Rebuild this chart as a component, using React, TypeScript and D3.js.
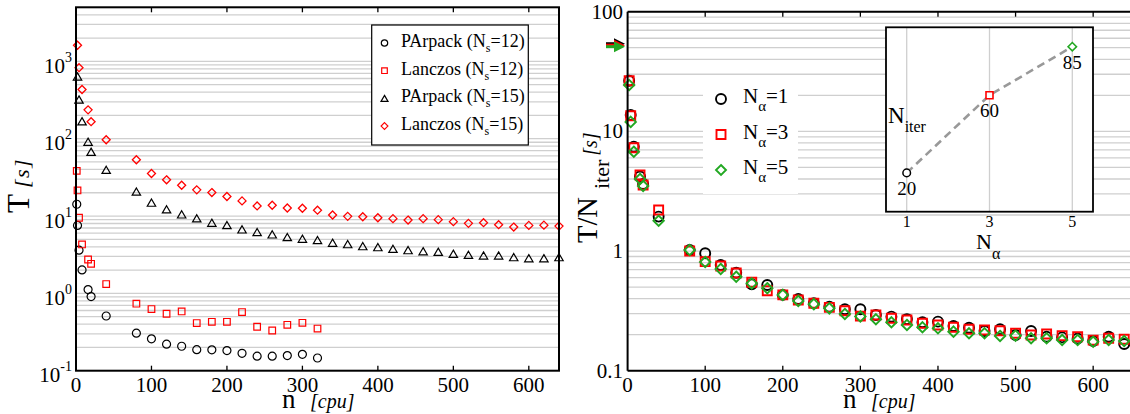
import React from "react";
import * as d3 from "d3";

// ---------- data ----------
const nSmall12 = [1, 2, 4, 8, 16, 20, 40, 80, 100, 120, 140, 160, 180, 200, 220, 240, 260, 280, 300, 320];
const parpack12 = [14.2, 7.57, 3.62, 2.01, 1.12, 0.91, 0.51, 0.306, 0.258, 0.22, 0.207, 0.187, 0.186, 0.182, 0.168, 0.154, 0.154, 0.157, 0.163, 0.146];
const lanczos12 = [38.4, 21.4, 9.5, 4.29, 2.74, 2.41, 1.32, 0.735, 0.627, 0.545, 0.584, 0.413, 0.429, 0.429, 0.573, 0.37, 0.331, 0.392, 0.416, 0.351];

const nFull = [2, 4, 8, 16, 20, 40, 80, 100, 120, 140, 160, 180, 200, 220, 240, 260, 280, 300, 320, 340, 360, 380, 400, 420, 440, 460, 480, 500, 520, 540, 560, 580, 600, 620, 640];
const parpack15 = [638, 321, 168, 91.4, 67.8, 39.6, 20.7, 14.9, 12.2, 10.5, 9.33, 8.2, 7.64, 6.72, 6.2, 5.79, 5.34, 5.09, 4.88, 4.52, 4.33, 4.08, 3.96, 3.77, 3.62, 3.51, 3.45, 3.25, 3.15, 3.09, 3.09, 2.94, 2.85, 2.85, 2.94];
const lanczos15 = [1614, 828, 433, 236, 166, 97, 53.4, 35.5, 29.4, 25.0, 21.8, 20.1, 17.9, 15.7, 13.5, 13.8, 12.7, 12.6, 11.9, 10.3, 9.9, 9.8, 9.5, 9.25, 8.87, 9.25, 8.98, 8.46, 8.04, 8.2, 7.73, 7.2, 7.57, 7.62, 7.41];

const nAlpha1 = [26.5, 13.7, 7.45, 4.2, 3.63, 1.94, 1.02, 0.957, 0.764, 0.659, 0.527, 0.52, 0.43, 0.397, 0.366, 0.343, 0.326, 0.326, 0.292, 0.283, 0.27, 0.254, 0.257, 0.2365, 0.2286, 0.2148, 0.222, 0.1987, 0.2148, 0.1923, 0.19, 0.186, 0.177, 0.1923, 0.167];
const nAlpha3 = [26.5, 13.5, 7.3, 4.32, 3.56, 2.2, 1.0, 0.815, 0.75, 0.655, 0.548, 0.466, 0.43, 0.39, 0.366, 0.338, 0.317, 0.286, 0.292, 0.274, 0.265, 0.249, 0.241, 0.2307, 0.222, 0.219, 0.216, 0.2055, 0.1987, 0.2027, 0.1963, 0.1923, 0.18, 0.1866, 0.1829];
const nAlpha5 = [24.4, 12.0, 6.76, 4.0, 3.5, 1.79, 1.02, 0.81, 0.708, 0.61, 0.537, 0.489, 0.43, 0.383, 0.36, 0.332, 0.298, 0.284, 0.269, 0.254, 0.241, 0.2307, 0.226, 0.212, 0.2055, 0.2055, 0.195, 0.1963, 0.1866, 0.1866, 0.1806, 0.1806, 0.1747, 0.1806, 0.177];
const arrowValues = [54, 52.5, 51];

const insetAlpha = [1, 3, 5];
const insetIter = [20, 60, 85];

const xTickValues = [0, 100, 200, 300, 400, 500, 600];
const leftExponents = [-1, 0, 1, 2, 3];
const rightTickLabels = ["0.1", "1", "10", "100"];
const rightTickValues = [0.1, 1, 10, 100];

// ---------- style ----------
const FONT = "'Liberation Serif', 'Times New Roman', serif";
const RED = "#ff0000";
const GREEN = "#22a822";
const GRID = "#cfcfcf";

const circlePath = (r: number) => d3.symbol().type(d3.symbolCircle).size(Math.PI * r * r)()!;
const squarePath = (s: number) => `M${-s / 2},${-s / 2}H${s / 2}V${s / 2}H${-s / 2}Z`;
const diamondPath = (s: number) => `M0,${-s}L${s},0L0,${s}L${-s},0Z`;
const trianglePath = (w: number, h: number) => `M0,${-h / 2}L${w / 2},${h / 2}L${-w / 2},${h / 2}Z`;

function gridValues(lo: number, hi: number) {
  const out: number[] = [];
  for (let k = -2; k <= 4; k++) {
    for (let m = 1; m <= 9; m++) {
      const v = m * Math.pow(10, k);
      if (v >= lo * 0.999 && v <= hi * 1.001) out.push(v);
    }
  }
  return out;
}

export default function App() {
  // Left panel scales
  const xL = d3.scaleLinear().domain([0, 640]).range([76, 559]);
  const yL = d3.scaleLog().domain([0.1, 5000]).range([370.7, 7.3]);
  // Right panel scales
  const xR = d3.scaleLinear().domain([0, 640]).range([627.6, 1124.2]);
  const yR = d3.scaleLog().domain([0.1, 100]).range([370.7, 11.7]);
  // Inset scales
  const xI = d3.scaleLinear().domain([0.5, 5.5]).range([886, 1093]);
  const yI = d3.scaleLinear().domain([0, 95]).range([211.7, 27.3]);

  const gridL = gridValues(0.1, 5000);
  const gridR = gridValues(0.1, 100);

  const lineI = d3
    .line<number>()
    .x((_, i) => xI(insetAlpha[i]))
    .y((d) => yI(d));

  const xRightEdge = xR(665);

  const leftLegend = [
    { label: "PArpack (N", num: "=12)", shape: "circle", color: "#000" },
    { label: "Lanczos (N", num: "=12)", shape: "square", color: RED },
    { label: "PArpack (N", num: "=15)", shape: "triangle", color: "#000" },
    { label: "Lanczos (N", num: "=15)", shape: "diamond", color: RED },
  ];

  const smallShape = (shape: string) => {
    if (shape === "circle") return circlePath(3.2);
    if (shape === "square") return squarePath(5.6);
    if (shape === "triangle") return trianglePath(7, 6);
    return diamondPath(3.4);
  };

  const rightLegend = [
    { v: "=1", shape: circlePath(5), color: "#000" },
    { v: "=3", shape: squarePath(9), color: RED },
    { v: "=5", shape: diamondPath(5), color: GREEN },
  ];

  const rightSeries = [
    { data: nAlpha1, shape: circlePath(5), color: "#000" },
    { data: nAlpha3, shape: squarePath(9), color: RED },
    { data: nAlpha5, shape: diamondPath(5.2), color: GREEN },
  ];
  const arrowColors = ["#000", RED, GREEN];

  return (
    <svg
      width={1130}
      height={414}
      style={{ position: "absolute", left: 0, top: 0, display: "block", background: "#fff" }}
      fontFamily={FONT}
    >
      <rect x={0} y={0} width={1130} height={414} fill="#fff" />

      {/* ================= LEFT PANEL ================= */}
      <g>
        {gridL.map((v, i) => (
          <line key={i} x1={xL(0)} x2={xL(640)} y1={yL(v)} y2={yL(v)} stroke={GRID} strokeWidth={1.3} />
        ))}
        {nSmall12.map((n, i) => (
          <path key={"pc" + i} d={circlePath(4)} transform={`translate(${xL(n)},${yL(parpack12[i])})`} fill="none" stroke="#000" strokeWidth={1.2} />
        ))}
        {nSmall12.map((n, i) => (
          <path key={"lc" + i} d={squarePath(6.6)} transform={`translate(${xL(n)},${yL(lanczos12[i])})`} fill="none" stroke={RED} strokeWidth={1.2} />
        ))}
        {nFull.map((n, i) => (
          <path key={"pt" + i} d={trianglePath(8.4, 7.2)} transform={`translate(${xL(n)},${yL(parpack15[i])})`} fill="none" stroke="#000" strokeWidth={1.2} />
        ))}
        {nFull.map((n, i) => (
          <path key={"ld" + i} d={diamondPath(4)} transform={`translate(${xL(n)},${yL(lanczos15[i])})`} fill="none" stroke={RED} strokeWidth={1.3} />
        ))}
        <rect x={xL(0)} y={yL(5000)} width={xL(640) - xL(0)} height={yL(0.1) - yL(5000)} fill="none" stroke="#000" strokeWidth={2} />
        {xTickValues.slice(1).map((t) => (
          <g key={"lt" + t}>
            <line x1={xL(t)} x2={xL(t)} y1={yL(5000)} y2={yL(5000) + 5} stroke="#000" strokeWidth={1.3} />
            <line x1={xL(t)} x2={xL(t)} y1={yL(0.1)} y2={yL(0.1) - 5} stroke="#000" strokeWidth={1.3} />
          </g>
        ))}
        {xTickValues.map((t) => (
          <text key={"ltl" + t} x={xL(t)} y={392} fontSize={21} textAnchor="middle">
            {t}
          </text>
        ))}
        {leftExponents.map((e) => (
          <text key={"le" + e} x={72} y={yL(Math.pow(10, e)) + 11.5} fontSize={21} textAnchor="end">
            10
            <tspan fontSize={14} dy={-11}>
              {e < 0 ? "-" + Math.abs(e) : String(e)}
            </tspan>
          </text>
        ))}
        {/* legend */}
        <rect x={371.7} y={25} width={156.6} height={120} fill="#fff" stroke="#000" strokeWidth={1.2} />
        {leftLegend.map((l, i) => {
          const by = 47 + i * 27.7;
          return (
            <g key={"ll" + i}>
              <path d={smallShape(l.shape)} transform={`translate(384.5,${by - 4})`} fill="none" stroke={l.color} strokeWidth={1.2} />
              <text x={401} y={by} fontSize={18}>
                {l.label}
                <tspan fontSize={12} dy={5}>
                  s
                </tspan>
                <tspan dy={-5}>{l.num}</tspan>
              </text>
            </g>
          );
        })}
        {/* axis labels */}
        <text transform="translate(29,213) rotate(-90)" fontSize={31}>
          T
          <tspan fontSize={22} fontStyle="italic" dx={6} letterSpacing={1.5}>
            [s]
          </tspan>
        </text>
        <text x={282} y={408} fontSize={27}>
          n
        </text>
        <text x={310} y={408} fontSize={20} fontStyle="italic">
          [cpu]
        </text>
      </g>

      {/* ================= RIGHT PANEL ================= */}
      <g>
        {gridR.map((v, i) => (
          <line key={i} x1={xR(0)} x2={xRightEdge} y1={yR(v)} y2={yR(v)} stroke={GRID} strokeWidth={1.3} />
        ))}
        <rect x={703} y={80} width={95} height={114} fill="#fff" />
        {rightSeries.map((s, si) =>
          nFull.map((n, i) => (
            <path
              key={"r" + si + "-" + i}
              d={s.shape}
              transform={`translate(${xR(n)},${yR(s.data[i])})`}
              fill="none"
              stroke={s.color}
              strokeWidth={1.9}
            />
          ))
        )}
        {arrowValues.map((v, i) => {
          const y = yR(v);
          return (
            <g key={"ar" + i}>
              <line x1={606} x2={619} y1={y} y2={y} stroke={arrowColors[i]} strokeWidth={3} />
              <path d={`M614,${y - 5.5}L625,${y}L614,${y + 5.5}Z`} fill={arrowColors[i]} />
            </g>
          );
        })}
        <line x1={xR(0)} x2={xR(0)} y1={yR(100)} y2={yR(0.1)} stroke="#000" strokeWidth={2} />
        <line x1={xR(0)} x2={xRightEdge} y1={yR(100)} y2={yR(100)} stroke="#000" strokeWidth={2} />
        <line x1={xR(0)} x2={xRightEdge} y1={yR(0.1)} y2={yR(0.1)} stroke="#000" strokeWidth={2} />
        {xTickValues.slice(1).map((t) => (
          <g key={"rt" + t}>
            <line x1={xR(t)} x2={xR(t)} y1={yR(100)} y2={yR(100) + 5} stroke="#000" strokeWidth={1.3} />
            <line x1={xR(t)} x2={xR(t)} y1={yR(0.1)} y2={yR(0.1) - 5} stroke="#000" strokeWidth={1.3} />
          </g>
        ))}
        {xTickValues.map((t) => (
          <text key={"rtl" + t} x={xR(t)} y={392} fontSize={21} textAnchor="middle">
            {t}
          </text>
        ))}
        {rightTickValues.map((v, i) => (
          <text key={"ry" + i} x={623} y={yR(v) + 7} fontSize={21} textAnchor="end">
            {rightTickLabels[i]}
          </text>
        ))}
        {rightLegend.map((l, i) => {
          const by = 103 + i * 35.5;
          return (
            <g key={"rl" + i}>
              <path d={l.shape} transform={`translate(721,${by - 4})`} fill="none" stroke={l.color} strokeWidth={1.9} />
              <text x={743} y={by} fontSize={21}>
                N
                <tspan fontSize={15} dy={8}>
                  α
                </tspan>
                <tspan dy={-8}>{l.v}</tspan>
              </text>
            </g>
          );
        })}
        <text transform="translate(597,243) rotate(-90)" fontSize={28.5}>
          T/N
          <tspan fontSize={22} dy={12} dx={8}>
            iter
          </tspan>
          <tspan fontSize={20} fontStyle="italic" dy={-12} dx={4}>
            [s]
          </tspan>
        </text>
        <text x={843} y={408} fontSize={27}>
          n
        </text>
        <text x={871} y={408} fontSize={20} fontStyle="italic">
          [cpu]
        </text>

        {/* ============ INSET ============ */}
        <rect x={xI(0.5)} y={yI(95)} width={xI(5.5) - xI(0.5)} height={yI(0) - yI(95)} fill="#fff" />
        {insetAlpha.map((a) => (
          <line key={"ig" + a} x1={xI(a)} x2={xI(a)} y1={yI(95)} y2={yI(0)} stroke={GRID} strokeWidth={1.3} />
        ))}
        <path d={lineI(insetIter)!} fill="none" stroke="#999" strokeWidth={2.6} strokeDasharray="8,5" />
        <rect x={xI(0.5)} y={yI(95)} width={xI(5.5) - xI(0.5)} height={yI(0) - yI(95)} fill="none" stroke="#000" strokeWidth={1.8} />
        <path d={circlePath(3.8)} transform={`translate(${xI(insetAlpha[0])},${yI(insetIter[0])})`} fill="#fff" stroke="#000" strokeWidth={1.5} />
        <path d={squarePath(7)} transform={`translate(${xI(insetAlpha[1])},${yI(insetIter[1])})`} fill="#fff" stroke={RED} strokeWidth={1.6} />
        <path d={diamondPath(4.2)} transform={`translate(${xI(insetAlpha[2])},${yI(insetIter[2])})`} fill="#fff" stroke={GREEN} strokeWidth={1.6} />
        {insetAlpha.map((a, i) => (
          <text key={"il" + a} x={xI(a)} y={yI(insetIter[i]) + 22} fontSize={19} textAnchor="middle">
            {insetIter[i]}
          </text>
        ))}
        {insetAlpha.map((a) => (
          <text key={"it" + a} x={xI(a)} y={227} fontSize={16} textAnchor="middle">
            {a}
          </text>
        ))}
        <text x={888} y={123} fontSize={23}>
          N
          <tspan fontSize={16} dy={9}>
            iter
          </tspan>
        </text>
        <text x={976} y={249} fontSize={22}>
          N
          <tspan fontSize={16} dy={10}>
            α
          </tspan>
        </text>
      </g>
    </svg>
  );
}
